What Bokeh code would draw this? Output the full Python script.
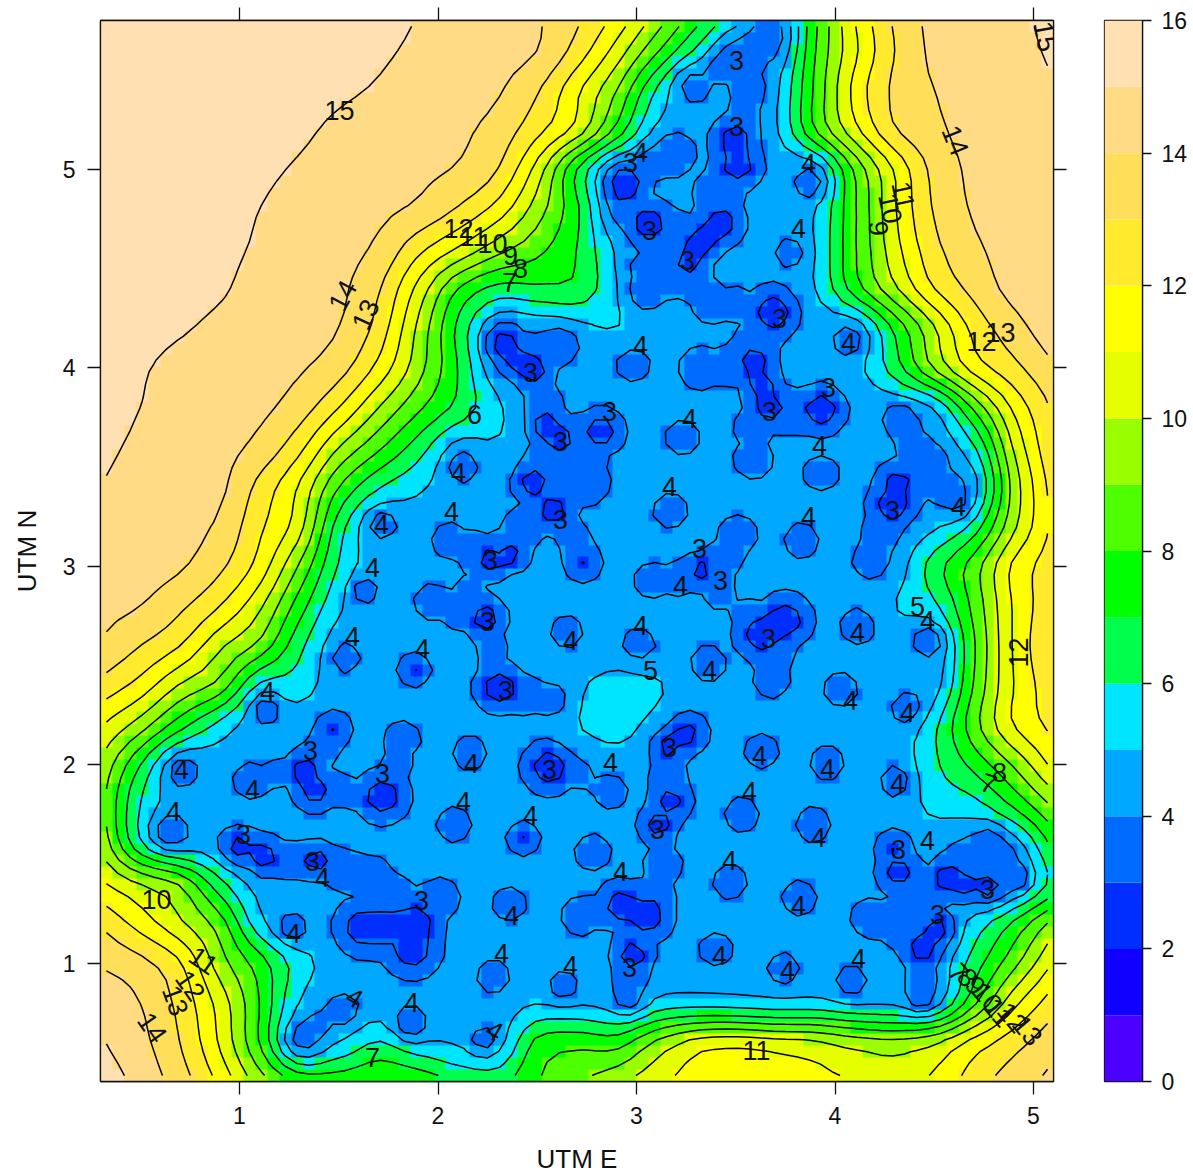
import numpy as np
from bokeh.core.properties import value
from bokeh.embed import file_html
from bokeh.layouts import row
from bokeh.models import ColumnDataSource, FixedTicker, LinearAxis, LinearColorMapper, Range1d
from bokeh.plotting import figure
from bokeh.resources import INLINE

palette = ["#4C00FF","#0F00FF","#002EFF","#006BFF","#00A8FF","#00E5FF","#00FF4D","#00FF00",
           "#4DFF00","#99FF00","#E6FF00","#FFFF00","#FFEA2D","#FFDE59","#FFDB86","#FFE0B3"]
level_edges = list(range(0, 17))
contour_levels = list(range(3, 16))
x_ticks = [1, 2, 3, 4, 5]
y_ticks = [1, 2, 3, 4, 5]
bar_ticks = [0, 2, 4, 6, 8, 10, 12, 14, 16]

# regional surface, rows y = 5.8 ... 0.4 step 0.2, columns x = 0.3 ... 5.1 step 0.2
surface = [
[16,16,16,16,16,16,15.9,15.6,15.0,14.7,14.4,14.1,13.3,12.0,10.0,7.8,5.8,4.6,7.8,11.1,13.2,14.3,14.6,14.7,15.5],
[16,16,16,16,16,15.9,15.6,15.2,14.8,14.5,14.3,14.0,12.6,10.6,8.2,6.0,4.5,4.4,8.0,10.8,13.0,14.2,14.4,14.6,15.2],
[16,16,16,16,15.9,15.6,15.2,14.9,14.6,14.4,14.1,13.1,11.2,9.0,6.0,4.6,4.4,4.9,8.2,11.3,13.2,14.0,14.3,14.5,14.9],
[16,16,15.9,15.8,15.5,15.2,14.8,14.6,14.4,14.2,13.6,12.3,10.6,7.7,5.0,4.4,4.4,4.9,8.0,10.7,12.9,13.8,14.3,14.5,14.7],
[16,15.9,15.7,15.5,15.2,14.9,14.6,14.4,14.2,13.9,13.0,10.6,7.0,4.5,4.4,4.4,4.4,4.4,4.7,8.2,11.1,13.3,14.2,14.5,14.6],
[15.9,15.7,15.5,15.3,15.0,14.7,14.4,14.2,13.8,12.9,11.6,9.5,7.2,4.4,4.4,4.4,4.4,4.4,5.0,7.9,10.9,13.1,14.1,14.5,14.6],
[15.8,15.6,15.4,15.2,14.9,14.6,14.3,13.8,12.3,10.9,9.4,8.3,7.0,4.9,4.4,4.4,4.4,4.4,5.1,7.9,10.6,12.7,13.8,14.4,14.6],
[15.7,15.5,15.3,15.1,14.7,14.5,14.2,13.1,10.7,8.0,6.7,6.8,6.7,5.2,4.4,4.4,4.4,4.4,5.0,7.5,9.8,12.0,13.3,14.3,14.6],
[15.5,15.4,15.1,14.8,14.5,14.3,14.0,12.6,9.8,6.8,4.4,4.4,4.8,5.0,4.4,4.4,4.4,4.4,4.5,4.6,7.2,9.9,12.3,13.6,14.6],
[15.3,15.1,14.7,14.5,14.3,14.1,13.4,11.7,9.4,7.0,4.4,4.4,4.4,4.4,4.4,4.4,4.4,4.4,4.4,4.7,6.5,9.1,11.4,12.7,13.9],
[15.2,15.0,14.7,14.4,14.2,13.5,12.0,10.0,8.2,6.7,5.2,4.4,4.4,4.4,4.4,4.4,4.4,4.4,4.4,4.4,4.5,5.1,8.2,11.2,13.2],
[15.1,14.9,14.6,14.3,13.7,12.3,10.0,8.2,6.5,4.8,4.9,4.4,4.4,4.4,4.4,4.4,4.4,4.4,4.4,4.4,4.4,4.4,5.9,10.1,13.0],
[15.0,14.8,14.5,14.2,12.7,10.9,8.0,6.1,5.2,4.4,4.4,4.4,4.4,4.4,4.4,4.4,4.4,4.4,4.4,4.4,4.4,4.4,4.8,9.4,12.5],
[14.9,14.7,14.4,13.8,12.2,10.4,6.5,4.4,4.4,4.4,4.4,4.4,4.4,4.4,4.4,4.4,4.4,4.4,4.4,4.4,4.4,4.9,6.5,9.8,12.3],
[14.6,14.4,14.1,13.2,11.6,8.9,5.9,4.4,4.4,4.4,4.4,4.4,4.4,4.4,4.4,4.4,4.4,4.4,4.4,4.4,4.5,6.5,8.5,11.2,12.6],
[14.3,14.0,13.2,12.0,10.2,7.5,5.2,4.4,4.4,4.4,4.4,4.4,4.4,4.4,4.4,4.4,4.4,4.4,4.4,4.4,5.0,5.8,8.3,11.1,12.8],
[13.9,13.0,12.0,10.2,8.7,6.3,4.5,4.4,4.4,4.4,4.4,4.4,4.4,4.5,4.4,4.4,4.4,4.4,4.4,4.4,4.4,4.5,7.9,11.1,13.1],
[12.7,11.6,9.9,8.6,5.9,5.5,4.4,4.4,4.4,4.4,4.4,4.4,4.9,5.3,5.1,4.5,4.4,4.4,4.4,4.4,4.4,4.6,8.1,11.0,12.7],
[11.1,9.5,7.4,5.7,4.4,4.4,4.4,4.4,4.4,4.4,4.4,4.4,5.0,5.3,4.8,4.4,4.4,4.4,4.4,4.4,4.4,5.8,8.6,11.0,12.3],
[9.9,7.0,4.4,4.4,4.4,4.4,4.4,4.4,4.4,4.4,4.4,4.4,4.4,4.6,4.4,4.4,4.4,4.4,4.4,4.4,4.4,5.8,7.3,9.1,11.3],
[9.4,6.0,4.4,4.4,4.4,4.4,4.4,4.4,4.4,4.4,4.4,4.4,4.4,4.4,4.4,4.4,4.4,4.4,4.4,4.4,4.4,5.3,5.7,7.2,9.2],
[9.9,6.3,4.8,4.5,4.4,4.4,4.4,4.4,4.4,4.4,4.4,4.4,4.4,4.4,4.4,4.4,4.4,4.4,4.4,4.4,4.4,4.4,4.4,4.7,7.3],
[11.2,10.0,8.9,6.4,4.7,4.4,4.4,4.4,4.4,4.4,4.4,4.4,4.4,4.4,4.4,4.4,4.4,4.4,4.4,4.4,4.4,4.4,4.4,4.4,6.4],
[12.9,11.6,10.2,8.5,5.4,4.4,4.4,4.4,4.4,4.4,4.4,4.4,4.4,4.4,4.4,4.4,4.4,4.4,4.4,4.4,4.4,4.4,5.5,7.2,9.4],
[13.9,13.3,12.1,9.5,7.5,5.5,4.5,4.4,4.4,4.4,4.4,4.4,4.4,4.4,4.4,4.4,4.4,4.4,4.4,4.4,4.4,4.4,6.5,8.7,11.1],
[14.8,14.0,12.7,10.6,8.0,5.0,4.4,4.4,4.4,4.4,4.5,5.0,5.0,4.7,5.4,5.6,5.5,5.3,5.3,5.0,4.9,4.8,7.8,10.7,12.6],
[15.1,14.3,13.0,10.9,8.0,4.7,5.1,6.1,5.4,4.9,4.8,7.3,7.7,7.6,9.2,10.4,10.7,10.4,10.2,9.6,9.3,9.9,11.4,12.6,13.7],
[15.6,14.7,13.5,11.8,9.6,8.0,7.8,8.2,7.9,7.0,6.8,8.0,8.9,9.9,10.8,11.6,12.0,11.8,11.4,11.1,10.9,11.3,12.6,13.6,14.3],
]

# observation wells and low-lying sites: easting, northing, value, radius of the 4 contour
site_x = [3.68,3.60,3.50,3.40,3.27,3.57,3.55,3.50,3.51,3.41,3.43,3.33,3.26,2.94,3.07,3.18,3.06,2.91,3.18,3.02,3.03,3.28,3.38,3.50,3.69,3.60,3.59,3.63,3.67,3.32,3.45,3.93,3.78,3.59,3.59,
          3.88,3.78,2.98,3.23,3.17,3.93,3.83,4.07,4.33,4.39,4.47,4.56,4.62,4.29,4.31,4.41,4.18,4.23,
          1.62,1.53,1.88,1.13,1.47,1.41,1.33,1.38,1.06,1.18,1.53,1.72,1.79,1.82,0.71,0.64,1.00,1.12,1.26,1.39,1.53,1.67,1.79,2.01,1.62,1.73,1.88,1.87,2.36,1.26,2.28,2.63,1.86,2.23,1.52,1.40,1.31,2.16,2.56,2.72,2.87,2.08,2.43,2.78,
          1.97,2.11,2.24,2.27,2.31,2.44,2.58,2.06,2.19,2.27,2.37,2.16,2.33,2.40,2.48,2.62,2.54,2.52,2.54,2.61,2.82,2.69,2.52,2.74,2.48,2.58,2.73,2.69,2.42,
          3.08,3.21,3.32,3.43,3.51,3.42,3.55,3.63,3.75,3.69,3.68,3.01,3.36,4.12,4.48,4.03,4.37,3.63,3.96,4.31,3.53,3.89,3.47,3.82,2.65,2.92,3.05,2.98,2.97,2.98,2.72,3.13,3.10,3.17,3.11,3.16,3.25,3.16,3.40,3.74,4.08,
          4.30,4.32,4.41,4.18,4.33,4.44,4.52,4.44,4.43,4.57,4.66,4.77,4.91,4.77,4.68,4.84,2.12,1.71,3.10,3.15]
site_y = [5.68,5.61,5.56,5.52,5.44,5.40,5.27,5.15,5.02,4.88,4.73,4.64,4.54,4.93,5.05,5.08,4.73,4.81,4.68,4.49,4.38,4.44,4.32,4.32,4.28,4.11,4.03,3.91,3.80,4.00,4.01,3.79,3.78,3.54,3.70,
          4.93,4.58,4.02,3.65,3.28,3.47,3.13,4.14,3.74,3.61,3.53,3.38,3.31,3.31,3.42,3.43,3.03,3.16,
          2.88,2.54,2.48,2.29,2.18,2.07,1.97,1.87,1.92,1.95,1.87,1.84,2.00,2.13,1.97,1.66,1.58,1.54,1.52,1.52,1.47,1.43,1.32,1.33,1.18,1.18,1.20,1.07,1.30,1.17,0.93,0.88,0.69,0.61,0.76,0.69,0.61,2.06,1.99,1.95,1.87,1.70,1.63,1.56,
          2.82,2.78,2.74,2.58,2.39,2.35,2.33,3.13,3.08,3.03,3.06,2.88,4.12,4.04,3.99,4.12,4.09,3.82,3.71,3.64,3.68,3.66,3.48,3.43,3.42,3.28,3.02,3.13,3.18,
          2.93,2.94,2.98,3.03,3.16,2.86,2.77,2.66,2.73,2.55,2.43,2.60,2.51,2.70,2.63,2.38,2.28,2.07,2.01,1.92,1.75,1.70,1.41,1.33,2.67,1.29,1.24,1.04,0.81,0.91,1.24,1.50,1.34,1.82,1.70,2.10,2.16,1.95,1.07,0.97,0.91,
          1.58,1.46,1.32,1.23,1.19,1.08,1.17,0.94,0.83,1.43,1.39,1.38,1.43,1.63,1.52,1.52,3.51,3.22,4.54,4.42]
site_z = [3.2,3.3,3.0,3.3,2.95,3.3,3.3,2.35,2.35,3.3,2.35,2.25,2.5,2.25,3.3,2.95,2.35,3.3,3.3,3.3,2.95,3.3,2.95,3.3,2.25,3.3,2.35,2.35,2.35,3.1,3.3,2.25,3.3,2.95,3.3,
          2.95,3.1,2.95,2.95,3.05,2.95,2.95,3.3,2.95,3.3,2.95,3.3,3.3,2.25,2.5,3.3,3.05,3.3,
          2.95,3.05,2.95,2.7,2.95,3.3,2.35,2.35,3.1,3.4,3.4,2.25,3.4,2.95,2.9,2.6,2.35,2.35,3.3,2.35,3.3,2.95,3.3,3.0,2.25,2.25,2.2,2.25,3.3,3.0,2.95,3.05,2.5,2.95,2.95,3.4,3.2,3.3,2.25,3.4,3.3,3.05,2.95,2.95,
          2.95,3.3,2.35,3.4,2.25,3.3,2.95,3.3,3.3,2.35,2.5,3.4,2.35,2.35,2.25,2.95,3.3,3.3,2.35,2.35,2.25,3.3,3.3,3.3,2.35,2.35,2.95,3.3,3.3,
          2.95,3.3,2.5,3.3,3.3,3.0,3.4,2.25,2.25,3.3,2.95,3.1,3.3,3.3,2.7,3.05,3.2,3.2,3.2,3.2,3.05,2.95,3.05,3.05,3.3,2.35,2.25,2.25,2.95,3.3,3.3,2.95,3.3,2.5,2.35,2.35,2.5,3.3,3.3,2.95,3.3,
          2.95,2.35,3.3,3.0,3.3,2.35,2.35,3.3,2.95,2.25,2.5,2.35,2.95,3.0,3.3,3.3,3.1,3.1,3.3,3.3]
site_r = [.12,.09,.13,.09,.11,.10,.09,.14,.14,.13,.13,.13,.12,.15,.10,.12,.14,.10,.12,.09,.10,.11,.10,.09,.15,.12,.12,.12,.12,.11,.10,.14,.12,.10,.10,
          .08,.08,.085,.087,.087,.088,.085,.08,.09,.09,.11,.10,.08,.14,.12,.10,.09,.10,
          .074,.073,.085,.08,.10,.09,.12,.12,.09,.07,.08,.15,.08,.09,.075,.10,.12,.12,.10,.11,.11,.11,.12,.10,.16,.16,.16,.16,.085,.08,.083,.083,.10,.07,.085,.07,.10,.085,.15,.07,.09,.085,.085,.09,
          .09,.10,.12,.08,.14,.10,.095,.09,.10,.11,.10,.08,.12,.11,.12,.10,.10,.11,.12,.12,.13,.10,.14,.13,.12,.12,.10,.09,.11,
          .09,.09,.10,.10,.10,.08,.07,.15,.15,.10,.09,.085,.095,.092,.085,.085,.085,.085,.085,.08,.085,.085,.085,.085,.08,.14,.15,.12,.09,.10,.10,.10,.10,.12,.11,.11,.12,.10,.085,.08,.08,
          .10,.12,.13,.10,.12,.12,.12,.09,.08,.12,.12,.12,.09,.09,.13,.10,.085,.08,.10,.08]

# contour labels: text, picture position, rotation
labels = [("15",339,110,0),("14",342,295,62),("13",365,314,65),("12",458,228,0),("11",473,236,0),("10",492,243,0),("9",510,255,0),("8",520,268,0),("7",509,282,0),("6",474,414,0),
 ("15",1045,36,-80),("14",955,140,-68),("13",1000,332,0),("12",981,341,0),("11",903,195,-78),("10",890,208,-78),("9",878,228,-85),
 ("4",640,345,0),("4",689,418,0),("3",609,411,0),("3",560,441,0),("3",530,372,0),("3",560,519,0),("3",490,560,0),("4",451,511,0),("4",458,472,0),("4",381,524,0),("4",372,567,0),("4",352,636,0),("4",422,648,0),("3",487,621,0),("3",505,690,0),("4",570,640,0),("4",640,625,0),("5",650,670,0),("4",709,670,0),("3",768,638,0),("3",699,548,0),("3",720,580,0),("4",680,585,0),("4",669,486,0),("4",808,516,0),("3",892,510,0),("4",958,506,0),("4",819,445,0),("3",828,387,0),("3",769,411,0),("3",779,318,0),("4",848,342,0),("3",687,260,0),("3",649,230,0),("3",630,162,0),("4",640,152,0),("3",736,60,0),("3",736,126,0),("4",808,163,0),("4",798,228,0),
 ("5",917,606,0),("4",927,620,0),("4",857,632,0),("4",850,700,0),("4",907,712,0),("4",759,755,0),("4",827,768,0),("4",897,783,0),("7",988,783,-20),("8",999,772,0),("4",927,840,0),("3",898,849,0),("3",987,889,0),("3",937,914,0),("4",858,958,0),("4",787,970,0),("4",719,955,0),("3",629,967,0),("3",657,829,0),("3",669,747,0),("4",610,762,0),("4",620,871,0),("4",729,860,0),("4",749,791,0),("4",818,837,0),("4",798,905,0),("4",570,965,0),("4",511,915,0),("4",501,953,0),("4",530,815,0),("4",463,801,0),("3",549,769,0),("4",471,763,0),("4",411,1002,0),("4",354,997,-30),("4",494,1030,-30),("7",372,1057,0),("11",756,1050,0),("3",421,900,0),("3",382,773,0),("3",310,750,0),("4",267,691,0),("4",252,789,0),("4",181,769,0),("4",173,811,0),("3",243,834,0),("3",312,861,0),("4",322,877,0),("10",156,899,0),("4",293,933,0),("11",203,960,-35),("12",190,985,-55),("13",175,1000,-70),("14",152,1027,-55),("12",1018,652,90),
 ("7",958,972,-50),("8",967,977,-50),("9",975,985,-50),("10",987,997,-50),("11",998,1012,-50),("12",1012,1017,-50),("13",1027,1030,-50)]

FONT = "Liberation Sans"
xlim = (0.2997, 5.1007)
ylim = (0.4055, 5.7506)


def cr(a, t):
    a = np.vstack([2 * a[0] - a[1], a, 2 * a[-1] - a[-2]])
    i = np.clip(np.floor(t).astype(int), 0, len(a) - 4)
    u = (t - i)[:, None]
    return (a[i] * (-.5 * u**3 + u**2 - .5 * u) + a[i + 1] * (1.5 * u**3 - 2.5 * u**2 + 1)
            + a[i + 2] * (-1.5 * u**3 + 2 * u**2 + .5 * u) + a[i + 3] * (.5 * u**3 - .5 * u**2))


nx, ny = 80, 89
dx = (xlim[1] - xlim[0]) / nx
dy = (ylim[1] - ylim[0]) / ny
xs = xlim[0] + dx * (np.arange(nx) + .5)
ys = ylim[0] + dy * (np.arange(ny) + .5)
grid = np.array(surface, dtype=float)[::-1]
g = cr(grid, (ys - 0.4) / 0.2)
g = cr(g.T, (xs - 0.3) / 0.2).T
g = np.maximum(g, 4.4)
X, Y = np.meshgrid(xs, ys)
drop = np.zeros_like(g)
for sx, sy, sz, sr in zip(site_x, site_y, site_z, site_r):
    d = 4.4 - sz
    s2 = sr**2 / np.log(d / 0.4)
    drop += (d * np.exp(-((X - sx)**2 + (Y - sy)**2) / s2))**4
z = g - drop**0.25

p = figure(x_range=Range1d(*xlim), y_range=Range1d(*ylim), frame_width=953, frame_height=1061,
           width=1080, height=1165, min_border_left=100, min_border_right=27, min_border_top=20,
           min_border_bottom=84, toolbar_location=None, output_backend="svg", background_fill_color=None,
           x_axis_label="UTM E", y_axis_label="UTM N")
p.grid.visible = False
p.outline_line_color = "#111111"
p.outline_line_width = 1.3
mapper = LinearColorMapper(palette=palette, low=0, high=16)
p.image(image=[z], x=xlim[0], y=ylim[0], dw=xlim[1] - xlim[0], dh=ylim[1] - ylim[0], color_mapper=mapper)
p.contour(xs, ys, z, levels=contour_levels, line_color="black", line_width=1.5)

src = ColumnDataSource(dict(
    x=[(l[1] - 239) / 198.5 + 1 for l in labels],
    y=[(963 - l[2]) / 198.5 + 1 for l in labels],
    t=[l[0] for l in labels],
    a=[np.deg2rad(l[3]) for l in labels]))
p.text("x", "y", text="t", angle="a", source=src, text_font=value(FONT), text_font_size="27px",
       text_color="#111111", text_align="center", text_baseline="middle")


def style(ax, ticks, labelled=True):
    ax.ticker = FixedTicker(ticks=ticks)
    ax.minor_tick_line_color = None
    ax.major_tick_in = 0
    ax.major_tick_out = 13
    ax.major_tick_line_color = "#111111"
    ax.major_tick_line_width = 1.3
    ax.axis_line_color = "#111111"
    ax.axis_line_width = 1.3
    ax.major_label_text_font = FONT
    ax.major_label_text_font_size = "23px"
    ax.major_label_text_color = "#111111"
    ax.major_label_standoff = 12
    ax.axis_label_text_font = FONT
    ax.axis_label_text_font_size = "26px"
    ax.axis_label_text_font_style = "normal"
    ax.axis_label_text_color = "#111111"
    if not labelled:
        ax.major_label_overrides = {t: "" for t in ticks}
        ax.major_label_text_font_size = "1px"
        ax.major_label_standoff = 0


style(p.xaxis[0], x_ticks)
style(p.yaxis[0], y_ticks)
p.xaxis[0].axis_label_standoff = 17
p.yaxis[0].major_label_orientation = "horizontal"
p.yaxis[0].axis_label_standoff = 18
top = LinearAxis()
style(top, x_ticks, False)
p.add_layout(top, "above")
right = LinearAxis()
style(right, y_ticks, False)
p.add_layout(right, "right")

cb = figure(x_range=Range1d(0, 1), y_range=Range1d(0, 16), frame_width=38, frame_height=1061,
            width=105, height=1165, min_border_left=24, min_border_right=43, min_border_top=20,
            min_border_bottom=84, toolbar_location=None, output_backend="svg", y_axis_location="right")
cb.grid.visible = False
cb.xaxis.visible = False
cb.outline_line_color = "#111111"
cb.outline_line_width = 1.3
cb.quad(left=0, right=1, bottom=level_edges[:-1], top=level_edges[1:], fill_color=palette, line_color=None)
style(cb.yaxis[0], bar_ticks)
cb.yaxis[0].major_tick_out = 9
cb.yaxis[0].major_label_standoff = 10

page = row(p, cb, spacing=0)
open("out.html", "w").write(file_html(page, INLINE))
